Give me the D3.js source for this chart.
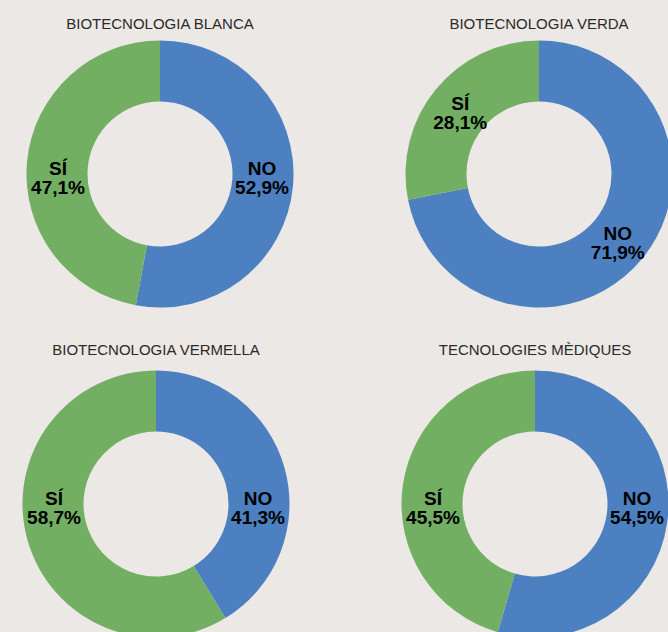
<!DOCTYPE html>
<html>
<head>
<meta charset="utf-8">
<script src="https://cdn.jsdelivr.net/npm/d3@7"></script>
<style>
html,body{margin:0;padding:0;background:#ECE8E5;}
svg{display:block;}
</style>
</head>
<body>
<svg id="chart" width="668" height="632"></svg>
<script>
const titles = ["BIOTECNOLOGIA BLANCA", "BIOTECNOLOGIA VERDA", "BIOTECNOLOGIA VERMELLA", "TECNOLOGIES MÈDIQUES"];
const answers = ["NO", "SÍ"];
const noValues = [52.9, 71.9, 41.3, 54.5];
const siValues = [47.1, 28.1, 58.7, 45.5];
const colors = ["#4D80C1", "#72AF63"];

const svg = d3.select("#chart");
svg.append("rect").attr("width", 668).attr("height", 632).attr("fill", "#ECE8E5");

const centers = [[160, 174], [539, 174], [156, 504], [535, 504]];
const titleY = [29, 29, 355, 355];
const R = 133.5, r = 72.5, labelR = 102;
const color = d3.scaleOrdinal().domain(answers).range(colors);
const pie = d3.pie().sort(null).value(d => d.value);
const arc = d3.arc().innerRadius(r).outerRadius(R);
const fmt = v => d3.format(".1f")(v).replace(".", ",") + "%";

// label angle: segment midpoint, snapped to horizontal when close to it
function labelPos(d) {
  let a = (d.startAngle + d.endAngle) / 2;
  const snap = 22 * Math.PI / 180;
  [Math.PI / 2, 3 * Math.PI / 2].forEach(h => { if (Math.abs(a - h) < snap) a = h; });
  return [labelR * Math.sin(a), -labelR * Math.cos(a)];
}

titles.forEach((t, i) => {
  const [cx, cy] = centers[i];
  const g = svg.append("g").attr("transform", `translate(${cx},${cy})`);
  const data = answers.map((a, j) => ({ name: a, value: j === 0 ? noValues[i] : siValues[i] }));
  const arcs = pie(data);
  g.selectAll("path").data(arcs).join("path")
    .attr("d", arc).attr("fill", d => color(d.data.name));
  const lab = g.selectAll("text.lab").data(arcs).join("text")
    .attr("class", "lab")
    .attr("transform", d => `translate(${labelPos(d)})`)
    .attr("text-anchor", "middle")
    .attr("font-family", "Liberation Sans, Arial, sans-serif")
    .attr("font-weight", "bold")
    .attr("font-size", 19)
    .attr("fill", "#000");
  lab.append("tspan").attr("x", 0).attr("y", 1).text(d => d.data.name);
  lab.append("tspan").attr("x", 0).attr("y", 20).text(d => fmt(d.data.value));
  svg.append("text")
    .attr("x", cx).attr("y", titleY[i])
    .attr("text-anchor", "middle")
    .attr("font-family", "Liberation Sans, Arial, sans-serif")
    .attr("font-size", 15)
    .attr("fill", "#2a2a2a")
    .text(t);
});
</script>
</body>
</html>
